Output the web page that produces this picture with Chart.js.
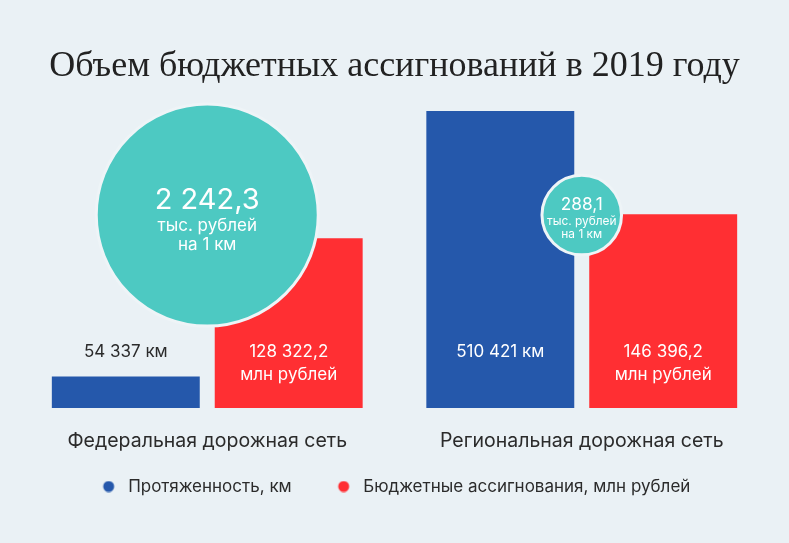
<!DOCTYPE html>
<html lang="ru">
<head>
<meta charset="utf-8">
<script src="https://cdn.jsdelivr.net/npm/chart.js@4"></script>
<style>
  html, body { margin: 0; padding: 0; background: #eaf1f5; overflow: hidden; }
  #wrap { width: 789px; height: 543px; }
</style>
</head>
<body>
<div id="wrap"><canvas id="chart"></canvas></div>
<script>
const categories = ['Федеральная дорожная сеть', 'Региональная дорожная сеть'];
const seriesNames = ['Протяженность, км', 'Бюджетные ассигнования, млн рублей'];
const lengthKm = [54337, 510421];
const budgetMlnRub = [128322.2, 146396.2];
const perKmThousandRub = [2242.3, 288.1];

const BLUE = '#2558ab';
const RED = '#ff2f33';
const TEAL = '#4dc9c2';
const INK = '#2b2b2b';

// legend marker: a dot on the right side of a wider transparent box
function dot(color) {
  const c = document.createElement('canvas');
  c.width = 39; c.height = 12;
  const g = c.getContext('2d');
  g.fillStyle = color;
  g.beginPath();
  g.arc(28, 6, 5.5, 0, Math.PI * 2);
  g.fill();
  return c;
}
const dots = [dot(BLUE), dot(RED)];

function fmt(v, d) {
  return v.toLocaleString('ru-RU', { minimumFractionDigits: d, maximumFractionDigits: d });
}

const labelsPlugin = {
  id: 'labelsPlugin',
  afterLayout(chart) {
    // the blank part of the first marker pushes the legend right, pull it back
    chart.legend.left -= 9;
    chart.legend.right -= 9;
  },
  afterDatasetsDraw(chart) {
    const ctx = chart.ctx;
    const bottom = chart.chartArea.bottom;
    ctx.save();
    ctx.textAlign = 'center';
    ctx.textBaseline = 'middle';

    // values on the bars
    [0, 1].forEach(di => {
      chart.getDatasetMeta(di).data.forEach((bar, i) => {
        const lines = di === 0
          ? [fmt(lengthKm[i], 0) + ' км']
          : [fmt(budgetMlnRub[i], 1), 'млн рублей'];
        const y0 = bottom - 56;
        ctx.fillStyle = bar.y < y0 - 14 ? '#ffffff' : INK;
        ctx.font = '17px Inter';
        lines.forEach((t, k) => ctx.fillText(t, bar.x, y0 + k * 23));
      });
    });

    // text inside the circles
    chart.getDatasetMeta(2).data.forEach((pt, i) => {
      const r = pt.options.radius;
      const V = 10.8 + 0.164 * r;
      const U = 9.1 + 0.0714 * r;
      const yv = pt.y - 4 - 0.38 * V;
      const y1 = yv + 0.5 * V + 0.65 * U;
      const y2 = y1 + 1.15 * U;
      ctx.fillStyle = '#ffffff';
      ctx.font = V.toFixed(1) + 'px Inter';
      ctx.fillText(fmt(perKmThousandRub[i], 1), pt.x, yv);
      ctx.font = U.toFixed(1) + 'px Inter';
      ctx.fillText('тыс. рублей', pt.x, y1);
      ctx.fillText('на 1 км', pt.x, y2);
    });
    ctx.restore();
  }
};

const CIRCLE_LEVEL = 0.635;

new Chart(document.getElementById('chart'), {
  data: {
    labels: categories,
    datasets: [
      {
        type: 'bar',
        label: seriesNames[0],
        data: lengthKm,
        backgroundColor: BLUE,
        yAxisID: 'yKm',
        order: 2,
        categoryPercentage: 0.87,
        barPercentage: 0.908
      },
      {
        type: 'bar',
        label: seriesNames[1],
        data: budgetMlnRub,
        backgroundColor: RED,
        yAxisID: 'yRub',
        order: 2,
        categoryPercentage: 0.87,
        barPercentage: 0.908
      },
      {
        type: 'bubble',
        label: 'на 1 км',
        data: categories.map((c, i) => ({ x: c, y: CIRCLE_LEVEL, r: 2.344 * Math.sqrt(perKmThousandRub[i]) })),
        backgroundColor: TEAL,
        borderColor: '#eef4f7',
        borderWidth: 3,
        yAxisID: 'yPos',
        order: 0,
        clip: false
      }
    ]
  },
  options: {
    responsive: true,
    maintainAspectRatio: false,
    animation: false,
    events: [],
    layout: { autoPadding: false, padding: { left: 20, right: 20, top: 0, bottom: 38 } },
    scales: {
      x: {
        type: 'category',
        grid: { display: false },
        border: { display: false },
        ticks: {
          font: { family: 'Inter', size: 19.5 },
          color: INK,
          padding: 13,
          maxRotation: 0,
          minRotation: 0,
          autoSkip: false
        },
        afterFit(scale) {
          scale.paddingLeft = 0;
          scale.paddingRight = 0;
          scale.height = 46;
        }
      },
      yKm: { display: false, min: 0, max: 522000 },
      yRub: { display: false, min: 0, max: 229500 },
      yPos: { display: false, min: 0, max: 1 }
    },
    plugins: {
      title: {
        display: true,
        text: 'Объем бюджетных ассигнований в 2019 году',
        color: '#222222',
        font: { family: 'Liberation Serif', size: 36, weight: 'normal' },
        padding: { top: 45, bottom: 16 }
      },
      legend: {
        position: 'bottom',
        labels: {
          filter: item => item.datasetIndex < 2,
          usePointStyle: true,
          pointStyleWidth: 39,
          boxHeight: 12,
          padding: 24,
          font: { family: 'Inter', size: 17 },
          color: INK,
          generateLabels(chart) {
            const items = Chart.defaults.plugins.legend.labels.generateLabels(chart);
            items.forEach(it => { if (it.datasetIndex < 2) it.pointStyle = dots[it.datasetIndex]; });
            return items;
          }
        }
      },
      tooltip: { enabled: false }
    }
  },
  plugins: [labelsPlugin]
});
</script>
</body>
</html>
